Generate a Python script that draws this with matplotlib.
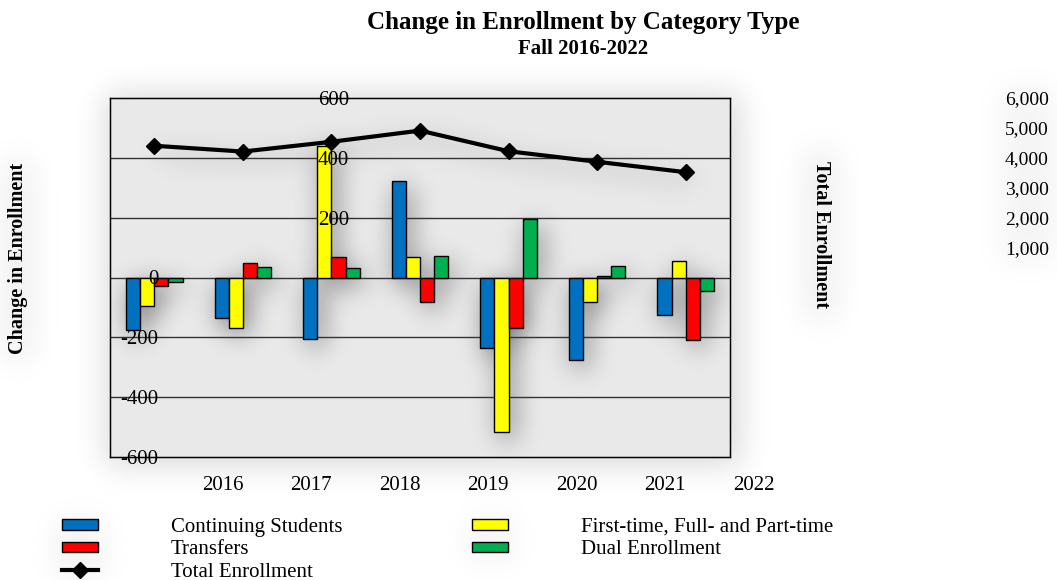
import matplotlib.pyplot as plt
import numpy as np

# Enrollment change by category, one group of bars per year
years = ['2016', '2017', '2018', '2019', '2020', '2021', '2022']
continuing = [-174, -137, -207, 324, -237, -277, -127]
first_time = [-96, -168, 440, 69, -518, -83, 54]
transfers = [-27, 47, 67, -83, -168, 5, -208]
dual = [-15, 35, 32, 72, 197, 39, -45]
total = [4403, 4210, 4536, 4910, 4220, 3868, 3520]

plt.rcParams['font.family'] = ['Liberation Serif', 'DejaVu Serif']

series = [
    (continuing, '#0070C0', 'Continuing Students'),
    (first_time, '#FFFF00', 'First-time, Full- and Part-time'),
    (transfers, '#FF0000', 'Transfers'),
    (dual, '#00B050', 'Dual Enrollment'),
]

W, H = 1057, 580
L, R, T, B = 110, 730, 98, 457  # plot box in pixels


def gauss_blur(a, sig):
    k = np.exp(-0.5 * (np.arange(-3 * sig, 3 * sig + 1) / sig) ** 2)
    k /= k.sum()
    a = np.apply_along_axis(lambda r: np.convolve(r, k, mode='same'), 1, a)
    return np.apply_along_axis(lambda c: np.convolve(c, k, mode='same'), 0, a)


fig = plt.figure(figsize=(W / 100, H / 100), dpi=100)

# soft grey glow round the plot box and the axis titles
bg = fig.add_axes([0, 0, 1, 1], zorder=-10)
glow = np.zeros((H, W))
glow[T - 4:B + 8, L - 4:R + 10] = 1.0
glow[160:360, 4:32] = 0.5
glow[150:320, 806:836] = 0.5
glow[88:262, 1000:1057] = 0.3
glow[520:578, 55:105] = 0.35
glow[520:560, 468:515] = 0.35
glow = gauss_blur(glow, 16)
bg.imshow(1 - 0.15 * glow, cmap='gray', vmin=0, vmax=1, aspect='auto',
          interpolation='bilinear')
bg.axis('off')

ax = fig.add_axes([L / W, 1 - B / H, (R - L) / W, (B - T) / H])

x = np.arange(len(years))
width = 0.16
offsets = [-0.24, -0.08, 0.08, 0.24]
xlim = (-0.5, len(years) - 0.5)
ylim = (-600, 600)
nx, ny = R - L, B - T


def to_px(xd, yd):
    px = (np.asarray(xd) - xlim[0]) / (xlim[1] - xlim[0]) * nx
    py = (ylim[1] - np.asarray(yd)) / (ylim[1] - ylim[0]) * ny
    return px, py


# drop shadow behind bars and the total line, blurred in pixel space
mask = np.zeros((ny, nx))
sx, sy = 6, 8
for (vals, _, _), off in zip(series, offsets):
    for xi, v in zip(x, vals):
        (x0, x1), (y0, y1) = to_px([xi + off - width / 2, xi + off + width / 2],
                                   [max(0, v), min(0, v)])
        mask[int(y0) + sy:int(y1) + sy, int(x0) + sx:int(x1) + sx] = 1.0
tx = np.linspace(0, len(years) - 1, 600)
ty = np.interp(tx, x, total) / 10
lpx, lpy = to_px(tx, ty)
for px, py in zip(lpx.astype(int) + sx, lpy.astype(int) + sy):
    mask[py - 2:py + 3, px - 2:px + 3] = 0.6
blur = gauss_blur(mask, 13)
shade = 0.915 - 0.45 * blur
ax.imshow(shade, cmap='gray', vmin=0, vmax=1, extent=[*xlim, *ylim],
          aspect='auto', zorder=0, interpolation='bilinear')

for (vals, color, label), off in zip(series, offsets):
    ax.bar(x + off, vals, width, color=color, edgecolor='black',
           linewidth=1, label=label, zorder=2)

for yv in range(-400, 600, 200):
    ax.axhline(yv, color='#333333', lw=1, zorder=1)

ax.set_xlim(*xlim)
ax.set_ylim(*ylim)
ax.set_xticks([])
ax.set_yticks(range(-600, 601, 200))
ax.set_yticklabels([str(v) for v in range(-600, 601, 200)])
ax.tick_params(axis='y', length=0, labelsize=15)
ax.yaxis.set_zorder(3)
for tick, v in zip(ax.yaxis.get_major_ticks(), range(-600, 601, 200)):
    tick.set_pad(-172 if v > 0 else -35)
for s in ax.spines.values():
    s.set_color('black')
    s.set_linewidth(1)

for xi, yr in zip(x, years):
    ax.text(xi + 0.77, -0.08, yr, transform=ax.get_xaxis_transform(),
            ha='center', va='center', fontsize=15, clip_on=False)

ax2 = ax.twinx()
ax2.set_ylim(-6000, 6000)
ax2.plot(x, total, color='black', lw=3, marker='D', ms=8,
         label='Total Enrollment', zorder=3)
ax2.set_yticks(range(1000, 7000, 1000))
ax2.set_yticklabels([f'{v:,}' for v in range(1000, 7000, 1000)])
ax2.tick_params(axis='y', length=0, pad=198, labelsize=14)

fig.text(18 / W, 1 - 258 / H, 'Change in Enrollment', rotation=90,
         ha='center', va='center', fontsize=14.5, fontweight='bold')
fig.text(821 / W, 1 - 235 / H, 'Total Enrollment', rotation=270,
         ha='center', va='center', fontsize=14.5, fontweight='bold')
fig.text(583 / W, 1 - 23 / H, 'Change in Enrollment by Category Type',
         ha='center', va='center', fontsize=18, fontweight='bold')
fig.text(583 / W, 1 - 49 / H, 'Fall 2016-2022',
         ha='center', va='center', fontsize=15, fontweight='bold')

h1, l1 = ax.get_legend_handles_labels()
h2, l2 = ax2.get_legend_handles_labels()
hmap = dict(zip(l1 + l2, h1 + h2))
order = ['Continuing Students', 'Transfers', 'Total Enrollment',
         'First-time, Full- and Part-time', 'Dual Enrollment']
fig.legend([hmap[o] for o in order], order, ncol=2, loc='upper left',
           bbox_to_anchor=(62 / W, 1 - 518 / H), frameon=False,
           fontsize=15, handlelength=1.73, handleheight=0.38,
           handletextpad=3.5, labelspacing=0.16, columnspacing=6.2,
           borderpad=0, borderaxespad=0)

fig.savefig('out.png', dpi=100)
